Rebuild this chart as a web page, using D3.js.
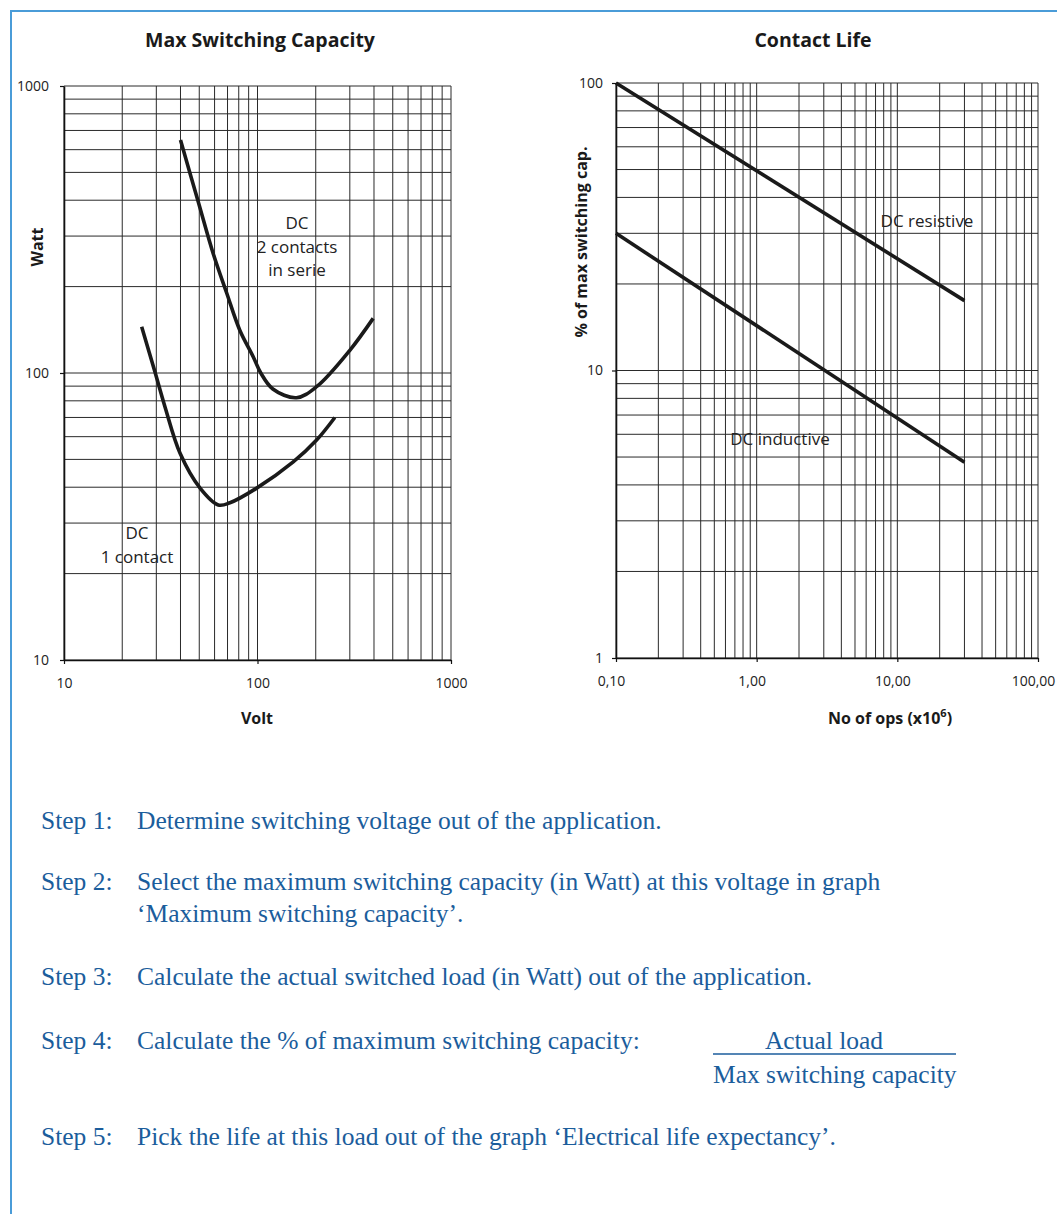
<!DOCTYPE html>
<html>
<head>
<meta charset="utf-8">
<script src="https://cdnjs.cloudflare.com/ajax/libs/d3/7.8.5/d3.min.js"></script>
<style>
  body { margin: 0; background: #fff; }
  svg { display: block; }
</style>
</head>
<body>
<svg id="sheet" width="1057" height="1214"></svg>
<script>
// --- data ---
var voltTicks = [10, 100, 1000];
var wattTicks = [10, 100, 1000];
var opsTicks = [0.1, 1, 10, 100];
var opsTickLabels = ["0,10", "1,00", "10,00", "100,00"];
var pctTicks = [1, 10, 100];

// [volt, watt]
var oneContact = [[25.2,145],[29.5,101],[33.3,76],[39.8,52.5],[50.5,39.7],[62.7,34.7],[72,35.3],[99,39.7],[153,49],[202,58.4],[251,70]];
var twoContacts = [[40,648],[49.4,395],[59,261],[69.3,190],[81,141],[95,114],[104,100],[120,88],[159,82],[202,89.6],[300,120],[396,155]];

// [ops x10^6, % of max switching cap]
var dcResistive = [[0.1,100],[30,17.5]];
var dcInductive = [[0.1,30],[30,4.8]];

var steps = [
  { label: "Step 1:", lines: ["Determine switching voltage out of the application."] },
  { label: "Step 2:", lines: ["Select the maximum switching capacity (in Watt) at this voltage in graph", "\u2018Maximum switching capacity\u2019."] },
  { label: "Step 3:", lines: ["Calculate the actual switched load (in Watt) out of the application."] },
  { label: "Step 4:", lines: ["Calculate the % of maximum switching capacity:"] },
  { label: "Step 5:", lines: ["Pick the life at this load out of the graph \u2018Electrical life expectancy\u2019."] }
];
var stepY = [829, 890, 985, 1049, 1145];

var sansFont = "'Open Sans', 'Noto Sans', sans-serif";
var serifFont = "'Liberation Serif', 'DejaVu Serif', serif";
var blue = "#1b5d9c";

var svg = d3.select("#sheet");

// page frame
svg.append("path")
  .attr("d", "M1057,11H11V1214")
  .attr("fill", "none")
  .attr("stroke", "#4a9cd8")
  .attr("stroke-width", 2);

function drawPanel(opt) {
  var x = d3.scaleLog().domain(opt.xDomain).range(opt.xRange);
  var y = d3.scaleLog().domain(opt.yDomain).range(opt.yRange);
  var g = svg.append("g");

  // log grid
  g.append("g").selectAll("line")
    .data(x.ticks())
    .enter().append("line")
    .attr("x1", function(d) { return x(d); })
    .attr("x2", function(d) { return x(d); })
    .attr("y1", opt.yRange[0])
    .attr("y2", opt.yRange[1])
    .attr("stroke", "#2a2a2a")
    .attr("stroke-width", 1);
  g.append("g").selectAll("line")
    .data(y.ticks())
    .enter().append("line")
    .attr("y1", function(d) { return y(d); })
    .attr("y2", function(d) { return y(d); })
    .attr("x1", opt.xRange[0])
    .attr("x2", opt.xRange[1])
    .attr("stroke", "#2a2a2a")
    .attr("stroke-width", 1);

  var xAxis = g.append("g")
    .attr("transform", "translate(0," + opt.yRange[0] + ")")
    .call(d3.axisBottom(x).tickValues(opt.xTicks).tickSize(4).tickSizeOuter(0).tickPadding(14)
      .tickFormat(function(d, i) { return opt.xLabels ? opt.xLabels[i] : d; }));
  var yAxis = g.append("g")
    .attr("transform", "translate(" + opt.xRange[0] + ",0)")
    .call(d3.axisLeft(y).tickValues(opt.yTicks).tickSize(4).tickSizeOuter(0).tickPadding(opt.yPad)
      .tickFormat(function(d) { return d; }));
  [xAxis, yAxis].forEach(function(a) {
    a.selectAll("text").attr("font-family", sansFont).attr("font-size", 14).attr("fill", "#222");
    a.select(".domain").attr("stroke", "#111").attr("stroke-width", 1.6);
    a.selectAll(".tick line").attr("stroke", "#111").attr("stroke-width", 1.2);
  });
  if (opt.xLabelShift) xAxis.selectAll("text").attr("dx", opt.xLabelShift);

  // smooth curves through the read points
  var line = d3.line()
    .x(function(d) { return x(d[0]); })
    .y(function(d) { return y(d[1]); })
    .curve(d3.curveCatmullRom.alpha(0.5));
  opt.series.forEach(function(s) {
    g.append("path")
      .datum(s)
      .attr("d", line)
      .attr("fill", "none")
      .attr("stroke", "#1a1a1a")
      .attr("stroke-width", 3.6)
      .attr("stroke-linecap", "butt");
  });

  // titles
  g.append("text")
    .attr("x", opt.titleX).attr("y", 47)
    .attr("text-anchor", "middle")
    .attr("font-family", sansFont).attr("font-weight", "bold").attr("font-size", 19.5)
    .attr("fill", "#1a1a1a")
    .text(opt.title);
  g.append("text")
    .attr("transform", "translate(" + opt.yTitleX + "," + opt.yTitleY + ") rotate(-90)")
    .attr("text-anchor", "middle")
    .attr("font-family", sansFont).attr("font-weight", "bold").attr("font-size", 16)
    .attr("fill", "#1a1a1a")
    .text(opt.yTitle);
  var xt = g.append("text")
    .attr("x", opt.xTitleX).attr("y", 724)
    .attr("text-anchor", "middle")
    .attr("font-family", sansFont).attr("font-weight", "bold").attr("font-size", 16)
    .attr("fill", "#1a1a1a");
  xt.append("tspan").text(opt.xTitle);
  if (opt.xTitleSup) {
    xt.append("tspan").attr("dy", -7).attr("font-size", 11).text(opt.xTitleSup);
    xt.append("tspan").attr("dy", 7).text(")");
  }

  // curve annotations
  opt.notes.forEach(function(n) {
    var t = g.append("text")
      .attr("text-anchor", "middle")
      .attr("font-family", sansFont).attr("font-size", 17)
      .attr("fill", "#222");
    n.lines.forEach(function(l, i) {
      t.append("tspan").attr("x", n.x).attr("y", n.y + i * 23.5).text(l);
    });
  });
}

drawPanel({
  xDomain: [10, 1000], xRange: [64, 451],
  yDomain: [10, 1000], yRange: [660, 86],
  xTicks: voltTicks, yTicks: wattTicks, yPad: 11,
  series: [twoContacts, oneContact],
  title: "Max Switching Capacity", titleX: 260,
  yTitle: "Watt", yTitleX: 43, yTitleY: 247,
  xTitle: "Volt", xTitleX: 257,
  notes: [
    { x: 297, y: 229, lines: ["DC", "2 contacts", "in serie"] },
    { x: 137, y: 539, lines: ["DC", "1 contact"] }
  ]
});

drawPanel({
  xDomain: [0.1, 100], xRange: [616, 1038],
  yDomain: [1, 100], yRange: [658, 83],
  xTicks: opsTicks, xLabels: opsTickLabels, xLabelShift: -5, yTicks: pctTicks, yPad: 9,
  series: [dcResistive, dcInductive],
  title: "Contact Life", titleX: 813,
  yTitle: "% of max switching cap.", yTitleX: 587, yTitleY: 242,
  xTitle: "No of ops (x10", xTitleSup: "6", xTitleX: 890,
  notes: [
    { x: 927, y: 227, lines: ["DC resistive"] },
    { x: 780, y: 445, lines: ["DC inductive"] }
  ]
});

// instructions below the graphs
var text = svg.append("g")
  .attr("font-family", serifFont)
  .attr("font-size", 25.5)
  .attr("fill", blue);
steps.forEach(function(s, i) {
  text.append("text").attr("x", 41).attr("y", stepY[i]).text(s.label);
  s.lines.forEach(function(l, j) {
    text.append("text").attr("x", 137).attr("y", stepY[i] + j * 32).text(l);
  });
});
// fraction in step 4
text.append("text").attr("x", 824).attr("y", stepY[3]).attr("text-anchor", "middle").text("Actual load");
text.append("line")
  .attr("x1", 713).attr("x2", 956)
  .attr("y1", stepY[3] + 5).attr("y2", stepY[3] + 5)
  .attr("stroke", blue).attr("stroke-width", 1.3);
text.append("text").attr("x", 713).attr("y", stepY[3] + 34).text("Max switching capacity");
</script>
</body>
</html>
